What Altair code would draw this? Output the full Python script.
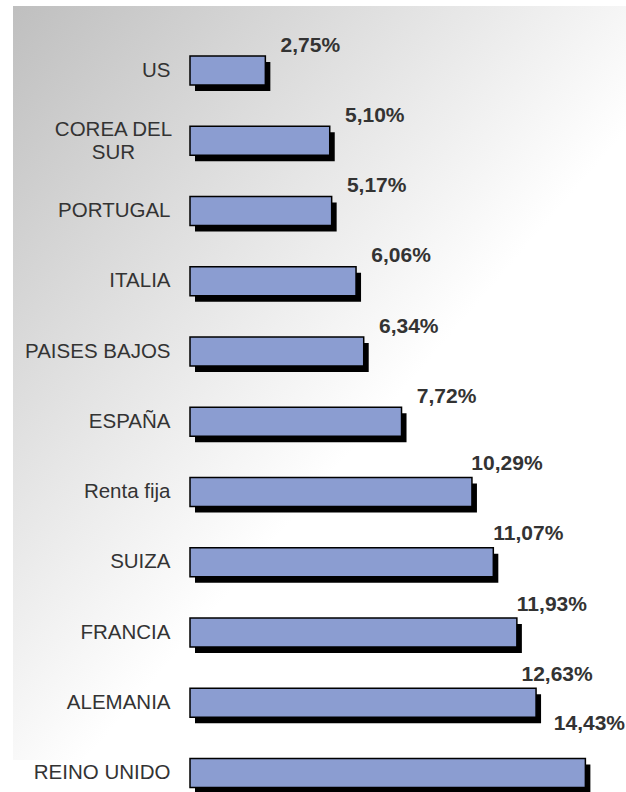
import altair as alt
import pandas as pd

categories = ["US", "COREA DEL SUR", "PORTUGAL", "ITALIA", "PAISES BAJOS", "ESPAÑA",
              "Renta fija", "SUIZA", "FRANCIA", "ALEMANIA", "REINO UNIDO"]
values = [2.75, 5.10, 5.17, 6.06, 6.34, 7.72, 10.29, 11.07, 11.93, 12.63, 14.43]

df = pd.DataFrame({"pais": categories, "valor": values})

PX = 27.4
W = 436
H = 792

xscale = alt.Scale(domain=[0, W / PX], nice=False, zero=True)
yscale = alt.Scale(domain=categories, paddingInner=0.587, paddingOuter=0.4305, align=0.926)

FONT = "Liberation Sans"
TXT = "#333333"

gradient = {
    "gradient": "linear",
    "x1": 0, "y1": 0, "x2": 0.555, "y2": 0.587,
    "stops": [{"offset": 0, "color": "#bfbfbf"}, {"offset": 1, "color": "#ffffff"}],
}

IS_COREA = "datum.value == 'COREA DEL SUR'"

yaxis = alt.Axis(
    title=None, ticks=False, domain=False, grid=False,
    labelFont=FONT, labelFontSize=20.5, labelColor=TXT,
    labelPadding={"condition": {"test": IS_COREA, "value": 77}, "value": 20},
    labelAlign={"condition": {"test": IS_COREA, "value": "center"}, "value": "right"},
    labelOffset={"condition": {"test": IS_COREA, "value": -11}, "value": 0},
    labelExpr="datum.value == 'COREA DEL SUR' ? ['COREA DEL', 'SUR'] : datum.label",
    labelLineHeight=23,
    labelOverlap=False,
    zindex=1,
)

Y = alt.Y("pais:N", scale=yscale, axis=yaxis, sort=categories)
X = alt.X("valor:Q", scale=xscale, axis=None)

bg = alt.Chart(pd.DataFrame({"a": [0]})).mark_rect(color=gradient).encode(
    x=alt.value(-177), x2=alt.value(W), y=alt.value(6), y2=alt.value(760)
)

base = alt.Chart(df)

shadow = base.mark_bar(color="black", xOffset=5, x2Offset=5, yOffset=6, y2Offset=6).encode(x=X, y=Y)

bars = base.mark_bar(color="#8b9dd1", stroke="black", strokeWidth=1.5).encode(x=X, y=Y)


def labels(test, dx, dy):
    return base.transform_calculate(
        lbl="replace(format(datum.valor, '.2f'), '.', ',') + '%'"
    ).transform_filter(test).mark_text(
        align="center", baseline="middle", dx=dx, dy=dy,
        font=FONT, fontSize=21, fontWeight="bold", color=TXT,
    ).encode(x=X, y=Y, text="lbl:N")


t1 = labels("datum.valor < 10", 45, -25)
t2 = labels("datum.valor >= 10 && datum.valor < 12.5", 35, -28)
t3 = labels("datum.valor >= 12.5 && datum.valor < 14", 21, -28)
t4 = labels("datum.valor >= 14", 4, -49)

chart = alt.layer(bg, shadow, bars, t1, t2, t3, t4).properties(
    width=W, height=H,
    padding={"left": 190, "top": 0, "right": 0, "bottom": 0},
    autosize="none",
    background="white",
).configure_view(stroke=None)

chart.save("out.html", embed_options={"renderer": "svg", "actions": False})
